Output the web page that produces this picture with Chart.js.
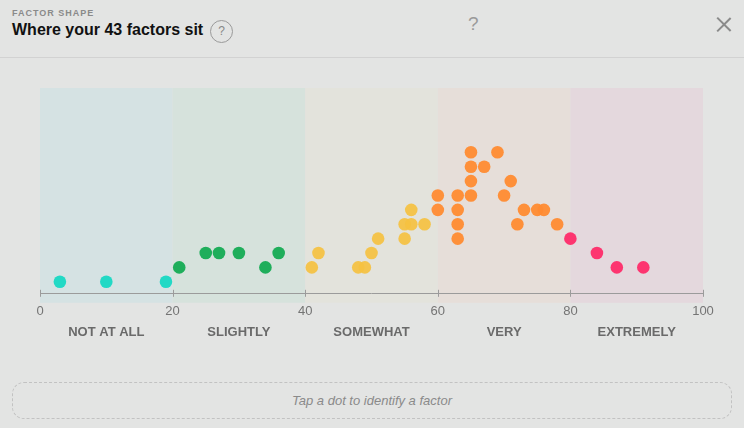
<!DOCTYPE html>
<html>
<head>
<meta charset="utf-8">
<script src="https://cdn.jsdelivr.net/npm/chart.js@4.4.1/dist/chart.umd.min.js"></script>
<style>
  html, body { margin: 0; padding: 0; }
  body {
    width: 744px; height: 428px; overflow: hidden; position: relative;
    background: #e3e4e3;
    font-family: "Liberation Sans", Arial, sans-serif;
  }
  .kicker {
    position: absolute; left: 12px; top: 8px;
    font-size: 9px; letter-spacing: 1px; color: #8a8a8a; font-weight: bold;
  }
  .title {
    position: absolute; left: 12px; top: 21px;
    font-size: 16px; font-weight: bold; color: #111;
  }
  .help {
    position: absolute; left: 210px; top: 20px; width: 21px; height: 21px;
    border: 1px solid #9a9a9a; border-radius: 50%;
    font-size: 12px; color: #888; text-align: center; line-height: 21px;
  }
  .mid-q {
    position: absolute; left: 468px; top: 13px;
    font-size: 19px; color: #9a9a9a;
  }
  .close {
    position: absolute; left: 716px; top: 16px; width: 16px; height: 16px;
  }
  .close:before, .close:after {
    content: ""; position: absolute; left: 7px; top: -1px; width: 1.5px; height: 19px;
    background: #8a8a8a;
  }
  .close:before { transform: rotate(45deg); }
  .close:after { transform: rotate(-45deg); }
  .sep { position: absolute; left: 0; top: 57px; width: 744px; height: 1px; background: #d2d2d2; }
  #wrap { position: absolute; left: 0; top: 58px; width: 744px; height: 290px; }
  .hint {
    position: absolute; left: 12px; top: 382px; width: 718px; height: 35px;
    border: 1px dashed #c2c2c2; border-radius: 12px;
    text-align: center; line-height: 35px;
    font-size: 13px; font-style: italic; color: #8a8a8a;
  }
</style>
</head>
<body>
<div class="kicker">FACTOR SHAPE</div>
<div class="title">Where your 43 factors sit</div>
<div class="help">?</div>
<div class="mid-q">?</div>
<div class="close"></div>
<div class="sep"></div>
<div id="wrap"><canvas id="shapeChart" width="744" height="290"></canvas></div>
<div class="hint">Tap a dot to identify a factor</div>

<script>
// score bands along the 0-100 axis
const bandNames = ['NOT AT ALL', 'SLIGHTLY', 'SOMEWHAT', 'VERY', 'EXTREMELY'];
const bandStarts = [0, 20, 40, 60, 80];
const bandCenters = [10, 30, 50, 70, 90];
const bandFills = ['#d5e2e3', '#d6e2dc', '#e3e3dc', '#e6ded9', '#e4d8dd'];

// factor scores (x) and their stack row (y) per band
const notAtAllX = [3, 10, 19];
const notAtAllRow = [1, 1, 1];
const slightlyX = [21, 25, 27, 30, 34, 36];
const slightlyRow = [2, 3, 3, 3, 2, 3];
const somewhatX = [41, 42, 48, 49, 50, 51, 55, 55, 56, 56, 58];
const somewhatRow = [2, 3, 2, 2, 3, 4, 4, 5, 5, 6, 5];
const veryX = [60, 60, 63, 63, 63, 63, 65, 65, 65, 65, 67, 69, 70, 71, 72, 73, 75, 76, 78];
const veryRow = [7, 6, 7, 6, 5, 4, 10, 9, 8, 7, 9, 10, 7, 8, 5, 6, 6, 6, 5];
const extremelyX = [80, 84, 87, 91];
const extremelyRow = [4, 3, 2, 2];

const dotColors = ['#22d9c5', '#1fae5b', 'rgba(245,193,64,0.92)', 'rgba(255,139,50,0.95)', '#fd3570'];

function pts(xs, rows) {
  return xs.map((v, i) => ({ x: v, y: rows[i] }));
}

const groups = [
  pts(notAtAllX, notAtAllRow),
  pts(slightlyX, slightlyRow),
  pts(somewhatX, somewhatRow),
  pts(veryX, veryRow),
  pts(extremelyX, extremelyRow)
];

// coloured band backgrounds, a little past the axis line
const bandPlugin = {
  id: 'bands',
  beforeDatasetsDraw(chart) {
    const ctx = chart.ctx;
    const x = chart.scales.x;
    const area = chart.chartArea;
    ctx.save();
    for (let i = 0; i < bandStarts.length; i++) {
      const l = x.getPixelForValue(bandStarts[i]);
      const r = x.getPixelForValue(bandStarts[i] + 20);
      ctx.fillStyle = bandFills[i];
      ctx.fillRect(l, area.top, r - l, area.bottom - area.top + 10);
    }
    // axis line + ticks on top of the bands
    ctx.strokeStyle = '#9b9b9b';
    ctx.lineWidth = 1;
    ctx.beginPath();
    ctx.moveTo(x.left, Math.round(area.bottom) + 0.5);
    ctx.lineTo(x.right, Math.round(area.bottom) + 0.5);
    for (let v = 0; v <= 100; v += 20) {
      const px = Math.round(x.getPixelForValue(v)) + 0.5;
      ctx.moveTo(px, area.bottom - 3);
      ctx.lineTo(px, area.bottom + 4);
    }
    ctx.stroke();
    ctx.restore();
  }
};

const ctx = document.getElementById('shapeChart').getContext('2d');
const myChart = new Chart(ctx, {
  type: 'scatter',
  data: {
    datasets: groups.map((g, i) => ({
      label: bandNames[i],
      data: g,
      backgroundColor: dotColors[i],
      borderWidth: 0,
      pointRadius: 6.3,
      pointHoverRadius: 6.3
    }))
  },
  options: {
    responsive: false,
    animation: false,
    devicePixelRatio: 1,
    layout: { padding: { top: 30, left: 40, right: 41, bottom: 10 } },
    plugins: {
      legend: { display: false },
      tooltip: { enabled: false }
    },
    scales: {
      y: {
        display: false,
        min: 0.236,
        max: 14.47
      },
      x: {
        type: 'linear',
        position: 'bottom',
        min: 0,
        max: 100,
        grid: { display: false, drawTicks: true, tickLength: 4 },
        border: { display: false },
        ticks: {
          stepSize: 20,
          padding: 7,
          color: '#747474',
          font: { family: 'Liberation Sans', size: 13 },
          maxRotation: 0
        }
      },
      x2: {
        type: 'linear',
        position: 'bottom',
        min: 0,
        max: 100,
        grid: { display: false, drawTicks: false },
        border: { display: false },
        afterBuildTicks: function(scale) {
          scale.ticks = bandCenters.map(v => ({ value: v }));
        },
        ticks: {
          autoSkip: false,
          maxRotation: 0,
          padding: -2,
          color: '#6a6a6a',
          font: { family: 'Liberation Sans', size: 13, weight: 'bold' },
          callback: function(value) {
            return bandNames[bandCenters.indexOf(value)];
          }
        }
      }
    }
  },
  plugins: [bandPlugin]
});
</script>
</body>
</html>
